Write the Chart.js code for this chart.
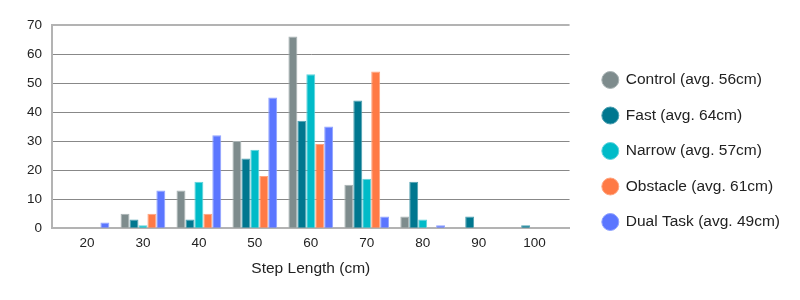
<!DOCTYPE html>
<html>
<head>
<meta charset="utf-8">
<script src="https://cdn.jsdelivr.net/npm/chart.js@4"></script>
<style>
  html, body { margin: 0; padding: 0; background: #fff; }
  #wrap { width: 800px; height: 300px; }
</style>
</head>
<body>
<div id="wrap"><canvas id="chart"></canvas></div>
<script>
const bins = [20, 30, 40, 50, 60, 70, 80, 90, 100];

const control = [0, 5, 13, 30, 66, 15, 4, 0, 0];
const fast = [0, 3, 3, 24, 37, 44, 16, 4, 1];
const narrow = [0, 1, 16, 27, 53, 17, 3, 0, 0];
const obstacle = [0, 5, 5, 18, 29, 54, 0, 0, 0];
const dualTask = [2, 13, 32, 45, 35, 4, 1, 0, 0];

const names = ['Control (avg. 56cm)', 'Fast (avg. 64cm)', 'Narrow (avg. 57cm)', 'Obstacle (avg. 61cm)', 'Dual Task (avg. 49cm)'];
const colors = ['#7e8c8d', '#00778f', '#00bbc8', '#ff7a45', '#5b76ff'];
const edges = ['#a9b3b4', '#4d9fb0', '#5fd3dc', '#ffa47f', '#8fa2ff'];

const font = 'Liberation Sans, Arial, sans-serif';

function toPoints(values) {
  return values.map((v, i) => ({ x: bins[i], y: v }));
}

const series = [control, fast, narrow, obstacle, dualTask];

const data = {
  datasets: series.map((s, i) => ({
    label: names[i],
    data: toPoints(s),
    backgroundColor: colors[i],
    borderColor: edges[i],
    borderWidth: 1,
    borderSkipped: 'start',
    categoryPercentage: 0.8,
    barPercentage: 1.0,
  })),
};

// the legend box is normally capped at a quarter of the width, let it take what it needs
const wideLegend = {
  id: 'wideLegend',
  afterInit(chart) {
    const lg = chart.legend;
    const update = lg.update.bind(lg);
    lg.update = (w, h, m) => update(260, h, m);
  },
};

const ctx = document.getElementById('chart').getContext('2d');

new Chart(ctx, {
  type: 'bar',
  data: data,
  plugins: [wideLegend],
  options: {
    responsive: true,
    maintainAspectRatio: false,
    animation: false,
    layout: {
      padding: { top: 19, right: 10, bottom: 17, left: 17 },
    },
    plugins: {
      tooltip: { enabled: false },
      legend: {
        position: 'right',
        labels: {
          usePointStyle: true,
          pointStyle: 'circle',
          boxWidth: 17,
          boxHeight: 12,
          padding: 20,
          color: '#222',
          font: { family: font, size: 15.5 },
        },
      },
    },
    scales: {
      x: {
        type: 'linear',
        min: 13.75,
        max: 106.25,
        offset: false,
        grid: { display: false, drawTicks: false },
        border: { display: true, color: '#b3b3b3', width: 2 },
        ticks: {
          stepSize: 10,
          includeBounds: false,
          padding: 7,
          color: '#222',
          font: { family: font, size: 13.5 },
        },
        title: {
          display: true,
          text: 'Step Length (cm)',
          color: '#222',
          padding: { top: 1, bottom: 5 },
          font: { family: font, size: 15.5 },
        },
      },
      y: {
        min: 0,
        max: 70,
        grid: {
          drawTicks: false,
          color: c => (c.tick && (c.tick.value === 70 || c.tick.value === 0)) ? '#b3b3b3' : '#888888',
          lineWidth: c => (c.tick && c.tick.value === 70) ? 2 : 1,
        },
        border: { display: true, color: '#b3b3b3', width: 2 },
        ticks: {
          stepSize: 10,
          padding: 10,
          color: '#222',
          font: { family: font, size: 13.5 },
        },
      },
      gap: {
        position: 'right',
        display: true,
        grid: { display: false },
        border: { display: false },
        ticks: { display: false },
        afterFit: s => { s.width = 13; },
      },
      gapTop: {
        position: 'top',
        display: true,
        grid: { display: false },
        border: { display: false },
        ticks: { display: false },
        afterFit: s => { s.height = 6; },
      },
    },
  },
});
</script>
</body>
</html>
